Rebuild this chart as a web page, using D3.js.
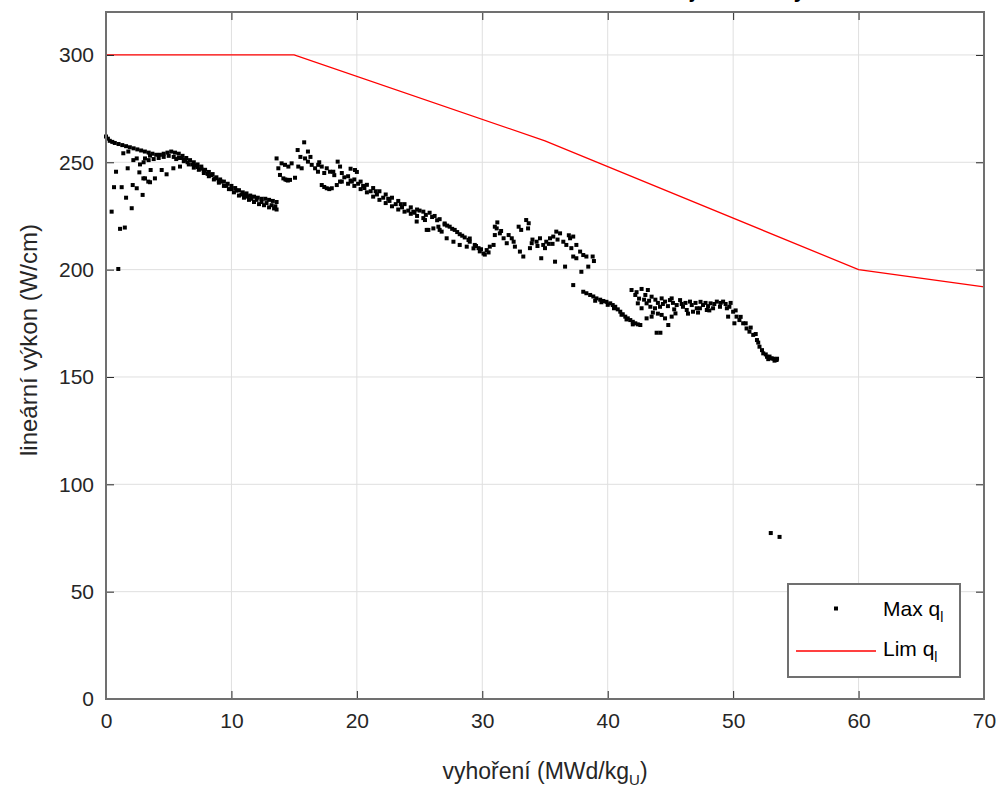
<!DOCTYPE html>
<html><head><meta charset="utf-8">
<script src="https://cdn.jsdelivr.net/npm/d3@7"></script>
<style>
html,body{margin:0;padding:0;background:#fff;}
svg{display:block;font-family:"Liberation Sans",Arial,sans-serif;}
</style></head>
<body><svg id="chart" width="1002" height="789"></svg>
<script>
// ---------- DATA ----------
const titleText = "Maximální lineární zatížení a limitní hodnota v jádře dle vyhoření";
const xTicks = [0,10,20,30,40,50,60,70];
const yTicks = [0,50,100,150,200,250,300];
const xLabel = "vyhoření (MWd/kg";
const xLabelSub = "U";
const yLabel = "lineární výkon (W/cm)";
const legendNames = ["Max q", "Lim q"];
const legendSub = "l";

// limit line (burnup, W/cm)
const limBurnup = [0, 15, 35, 60, 70];
const limPower  = [300, 300, 260, 200, 192];

// Max q_l scatter, [burnup, power] — first cycle
const maxQ_cycle1 = [
[0,262],[0.15,261],[0.3,260],[0.5,259.5],[0.7,259],[1.0,258.5],[1.3,258],[1.6,257.5],[1.9,257],[2.2,256.5],[2.5,256],[2.8,255.5],[3.1,255],[3.4,254.5],[3.7,254],[4.0,253.5],[4.3,253.5],[4.6,254],[4.9,254.5],[5.2,255],[5.5,254.5],[5.8,254],[6.1,253],[6.4,252],[6.7,251],[7.0,250],[7.3,249],[7.6,248],[7.9,246.5],[8.2,245.5],[8.5,244.5],[8.8,243],[9.1,242],[9.4,241],[9.7,240],[10.0,239],[10.3,238],[10.6,237],[10.9,236],[11.2,235.5],[11.5,234.5],[11.8,234],[12.1,233.5],[12.4,233],[12.7,233],[13.0,232.5],[13.3,232],[13.6,231.5],
[3.0,250],[3.4,251],[3.8,251.5],[4.2,252],[4.6,252.5],[5.0,253],[5.4,252.5],[5.8,252],[6.2,250.5],[6.6,249],[7.0,247.5],[7.4,246.5],[7.8,245],[8.2,243.5],[8.6,242],[9.0,240.5],[9.4,239],[9.8,237.5],[10.2,236],[10.6,234.5],[11.0,233.5],[11.4,232.5],[11.8,231.5],[12.2,230.5],[12.6,230],[13.0,229],[13.4,228.5],[13.6,228],
[5.6,251.5],[6.0,252],[6.5,250],[7.1,248.5],[7.6,247],[8.4,244],[9.2,241],[10.0,237.5],[10.8,235],[11.6,233],[12.4,231.5],[13.2,230],
[6.3,251.2],[6.9,249],[7.3,247.8],[7.8,246],[8.1,244.6],[8.7,242.5],[9.0,241.3],[9.6,239],[10.4,236.8],[11.0,235],[11.3,234],[12.0,232.5],[12.8,231],[13.5,229.5],
[0.45,227],[0.98,200.3],[1.12,219],[1.5,219.6],[0.64,238.4],[1.25,238.4],[0.8,245.6],[1.6,233.5],[2.05,228.6],[1.73,247.2],[2.13,239.4],[2.45,237.9],[2.92,234.8],[2.66,245.3],[3.11,242.5],[3.51,240.7],[3.56,246.4],[3.9,242.5],[4.44,246.4],[4.83,244.4],[5.37,247.2],[5.9,248],[2.71,249],[3.11,251.8],[3.51,253.1],[2.18,251],[2.45,251.8],[1.38,254.2],[1.78,255],[2.98,242.5],[3.37,241]
];
// second cycle
const maxQ_cycle2 = [
[13.6,251.8],[13.74,247.2],[14.0,249.5],[14.27,248.8],[14.54,248],[14.8,249.5],[13.87,244.1],[14.14,242.5],[14.4,241.8],[14.67,241.8],[15.07,242.8],[14.3,242],[14.5,241.5],[15.28,255.7],[15.8,259.3],[16.1,255],[15.33,248],[15.6,247.2],[15.87,251.8],[16.1,250.3],[16.4,248.8],[16.67,247.2],[16.9,245.6],[17.2,239.4],[17.6,237.9],[18.0,237.9],[18.4,239.4],[18.66,241],[17.4,238.5],[17.8,237.5],[16.92,248.8],[17.2,248],[17.6,247.2],[17.86,245.6],[18.12,245.6],[18.47,250.3],[18.66,248],[15.5,252.5],[16.3,252.5],[17.0,250],[17.4,245],[18.2,244],
[18.8,245],[19.3,243.5],[19.8,242],[20.3,241],[20.8,239.5],[21.3,238],[21.8,236.5],[22.3,235],[22.8,233.5],[23.3,232],[23.8,230.5],[24.3,229],[24.8,228],[25.3,227],[25.8,226.5],[26.2,225],[26.6,223.5],[27.0,221.5],[27.4,220],[27.8,218.5],[28.2,216.5],[28.6,215],[29.0,213],[29.4,211.5],[29.7,210],[30.1,207.5],
[18.8,241],[19.3,240],[19.8,239],[20.3,237.5],[20.8,236],[21.3,234],[21.8,232.5],[22.3,231],[22.8,229.5],[23.3,228],[23.8,227],[24.3,226],[24.8,225],[25.3,224],
[19.0,243],[19.6,241],[20.1,240],[20.6,238],[21.1,236.5],[21.6,235],[22.1,233.5],[22.6,232],[23.1,230.5],[23.6,229],[24.1,227.5],[24.6,226.5],[25.5,225.5],[26.4,223],[27.2,220.5],[27.6,219],[28.4,215.8],[28.9,213.8],[29.5,211],[29.9,209.5],
[24.77,222.4],[25.43,223.1],[25.7,218.5],[26.1,219.2],[26.5,220],[26.76,217.7],[25.57,218.5],[26.6,218.5],[27.16,214.6],[27.7,213],[28.2,211.5],[28.76,210.7],[29.3,209.9],[29.8,208.5],
[19.85,246.4],[19.5,247],[20.0,245.5],
[19.5,241.5],[20.5,239],[21.5,236.5],[22.5,233],[23.5,230.5],[24.5,227],[25.0,227.5],[26.0,224.5],[27.0,221],[28.0,217.5],[29.0,214.5],
[30.35,209.1],[30.6,210.7],[30.9,211.5],[31.0,216.1],[31.0,220],[31.15,219.2],[31.4,216.9],[31.7,214.6],[31.95,212.3],[32.1,216.1],[32.35,214.6],[32.9,220],[33.1,218.5],[33.5,223.1],[33.65,219.2],[32.6,210.7],[33.0,208.4],[33.27,206.1],[33.94,212.3],[34.33,213],[34.6,214.6],[34.86,211.5],[35.1,213],[35.4,214.6],[35.66,215.4],[35.9,217.7],[36.2,216.9],[36.46,213],[36.7,211.5],[37.0,214.6],[37.25,215.4],[37.5,211.5],[37.8,208.4],[38.05,206.8],[38.3,206.1],[38.8,206.1],
[34.7,205.3],[35.8,203.7],[36.6,201.4],[37.9,199],[38.45,201.4],[37.25,206.1],[37.5,205.3],[38.9,204],[37.25,192.8],
[30.2,207],[30.5,208],[31.2,222],[32.5,213],[33.8,210],[34.0,214],[34.4,211],[35.0,210],[35.3,212],[35.6,212],[36.0,214],[36.9,216],[37.1,210],[31.5,218],[33.7,221.6]
];
// third cycle
const maxQ_cycle3 = [
[38.05,189.7],[38.3,189],[38.6,188.2],[38.85,187.5],[39.1,186.6],[39.4,186],[39.65,185.4],[39.9,185],[40.2,184.3],[40.4,183.5],[40.6,182.7],[40.8,181.5],[41.0,180.4],[41.2,179.2],[41.4,178.1],[41.6,177.3],[41.8,176.5],[42.0,175.7],[42.2,175],[42.4,174.5],[42.6,174.2],
[39.0,185.5],[39.5,184.8],[40.0,183.6],[40.5,182.0],[41.1,179],[41.5,176.8],[42.0,174.5],
[41.9,190.5],[42.7,191],[43.2,190.5],[42.2,188.2],[43.0,188.2],[43.5,187.4],[42.4,184.3],[42.7,182],[43.1,184.3],[43.4,182.7],[43.1,177.3],[43.5,178.1],[43.9,170.6],[44.2,170.6],[44.83,174.2],[43.77,182],[44.17,182.7],[44.57,185.1],[44.96,185.8],[44.3,178.9],[44.57,177.3],[45.1,178.1],[45.4,179.6],
[42.5,186.5],[42.9,186],[43.3,185.5],[43.8,186],[44.0,184.5],[44.4,184],[44.8,183],[45.2,184.5],[43.6,180],[44.0,179.5],[42.3,189.5],[45.1,186.6],[44.3,186.6],
[45.5,183.5],[45.77,185.8],[46.0,182.7],[46.3,181.2],[46.56,185.1],[46.8,180.4],[47.1,182],[47.35,182],[47.6,183.5],[47.9,181.2],[48.2,184.3],[48.4,182],[48.7,185.1],[48.95,182.7],[49.2,185.1],[49.5,182],[49.7,182.7],
[45.9,184],[46.2,184.5],[46.7,183.5],[47.0,184.5],[47.4,185],[47.8,184.5],[48.0,183],[48.5,184],[49.0,184.5],[49.4,184],[49.8,184.5],[46.4,179.5],[47.2,180],[48.1,181],[45.3,181.5],
[50.0,180.4],[50.27,178.1],[50.5,176.5],[50.8,175],[51.07,172.6],[51.3,171.1],[51.6,169.6],[51.9,167.2],[52.1,164.1],[52.4,161],[52.7,159.4],[53.07,158.7],[53.46,157.9],[49.6,178.1],[50.1,175],
[50.2,181],[50.6,178],[51.0,175],[51.4,173],[51.8,170],[52.0,166],[52.3,162.5],[52.6,160.5],[52.9,159.5],[53.2,158.5],[53.3,157.6],[53.5,158.5],[52.8,158.3]
];
const maxQ_outliers = [[53.0,77.3],[53.7,75.5]];

// ---------- DRAW ----------
const svg = d3.select("#chart");
const L = 106, R = 984, T = 12, B = 699;
const x = d3.scaleLinear().domain([0,70]).range([L,R]);
const y = d3.scaleLinear().domain([0,320]).range([B,T]);
const axisCol = "#262626";

// title (cut off above the figure, only descenders visible as in the reference)
const title = svg.append("text").attr("y", -2).attr("font-weight","bold")
  .attr("font-size", 21).attr("fill","#000").text(titleText);
const jIdx = titleText.indexOf("j");
const off = title.node().getSubStringLength(0, jIdx);
title.attr("x", 690 - off);

svg.append("rect").attr("x",L).attr("y",T).attr("width",R-L).attr("height",B-T).attr("fill","#fff");

// grid
const grid = svg.append("g");
xTicks.forEach(t => grid.append("line").attr("x1",x(t)).attr("x2",x(t)).attr("y1",T).attr("y2",B)
  .attr("stroke","#dfdfdf").attr("stroke-width",1));
yTicks.forEach(t => grid.append("line").attr("x1",L).attr("x2",R).attr("y1",y(t)).attr("y2",y(t))
  .attr("stroke","#dfdfdf").attr("stroke-width",1));

// limit line
const limData = limBurnup.map((b,i)=>[b, limPower[i]]);
svg.append("path").datum(limData)
  .attr("d", d3.line().x(d=>x(d[0])).y(d=>y(d[1])))
  .attr("fill","none").attr("stroke","#ff0000").attr("stroke-width",1.3);

// scatter
const allPts = maxQ_cycle1.concat(maxQ_cycle2, maxQ_cycle3, maxQ_outliers);
svg.append("g").selectAll("rect").data(allPts).join("rect")
  .attr("x", d=>x(d[0])-2).attr("y", d=>y(d[1])-2)
  .attr("width",4).attr("height",4).attr("fill","#000");

// axes
const xAxisB = d3.axisBottom(x).tickValues(xTicks).tickSize(-8).tickPadding(14).tickFormat(d3.format("d"));
const xAxisT = d3.axisTop(x).tickValues(xTicks).tickSize(-8).tickFormat("");
const yAxisL = d3.axisLeft(y).tickValues(yTicks).tickSize(-8).tickPadding(12).tickFormat(d3.format("d"));
const yAxisR = d3.axisRight(y).tickValues(yTicks).tickSize(-8).tickFormat("");

function style(g){
  g.select(".domain").remove();
  g.selectAll(".tick line").attr("stroke",axisCol).attr("stroke-width",1);
  g.selectAll(".tick text").attr("fill",axisCol).attr("font-size",21)
    .attr("font-family","'Liberation Sans', Arial, sans-serif");
}
svg.append("g").attr("transform",`translate(0,${B})`).call(xAxisB).call(style);
svg.append("g").attr("transform",`translate(0,${T})`).call(xAxisT).call(style);
svg.append("g").attr("transform",`translate(${L},0)`).call(yAxisL).call(style);
svg.append("g").attr("transform",`translate(${R},0)`).call(yAxisR).call(style);

svg.append("rect").attr("x",L).attr("y",T).attr("width",R-L).attr("height",B-T)
  .attr("fill","none").attr("stroke","#707070").attr("stroke-width",2);

// axis labels
const xl = svg.append("text").attr("x",(L+R)/2).attr("y",779).attr("text-anchor","middle")
  .attr("font-size",23).attr("fill",axisCol);
xl.append("tspan").text(xLabel);
xl.append("tspan").attr("font-size",15).attr("dy",6).text(xLabelSub);
xl.append("tspan").attr("dy",-6).text(")");

svg.append("text").attr("transform",`translate(37,340) rotate(-90)`)
  .attr("text-anchor","middle").attr("font-size",24).attr("fill",axisCol).text(yLabel);

// legend
const lg = svg.append("g");
lg.append("rect").attr("x",788).attr("y",584).attr("width",172).attr("height",93)
  .attr("fill","#fff").attr("stroke","#707070").attr("stroke-width",2);
lg.append("rect").attr("x",834).attr("y",606.5).attr("width",4).attr("height",4).attr("fill","#000");
lg.append("line").attr("x1",796).attr("x2",876).attr("y1",651).attr("y2",651)
  .attr("stroke","#ff0000").attr("stroke-width",1.3);
[[legendNames[0],616],[legendNames[1],656]].forEach(([n,yy])=>{
  const t = lg.append("text").attr("x",883).attr("y",yy).attr("font-size",21).attr("fill","#000");
  t.append("tspan").text(n);
  t.append("tspan").attr("font-size",14).attr("dy",6).text(legendSub);
});
</script>
</body></html>
